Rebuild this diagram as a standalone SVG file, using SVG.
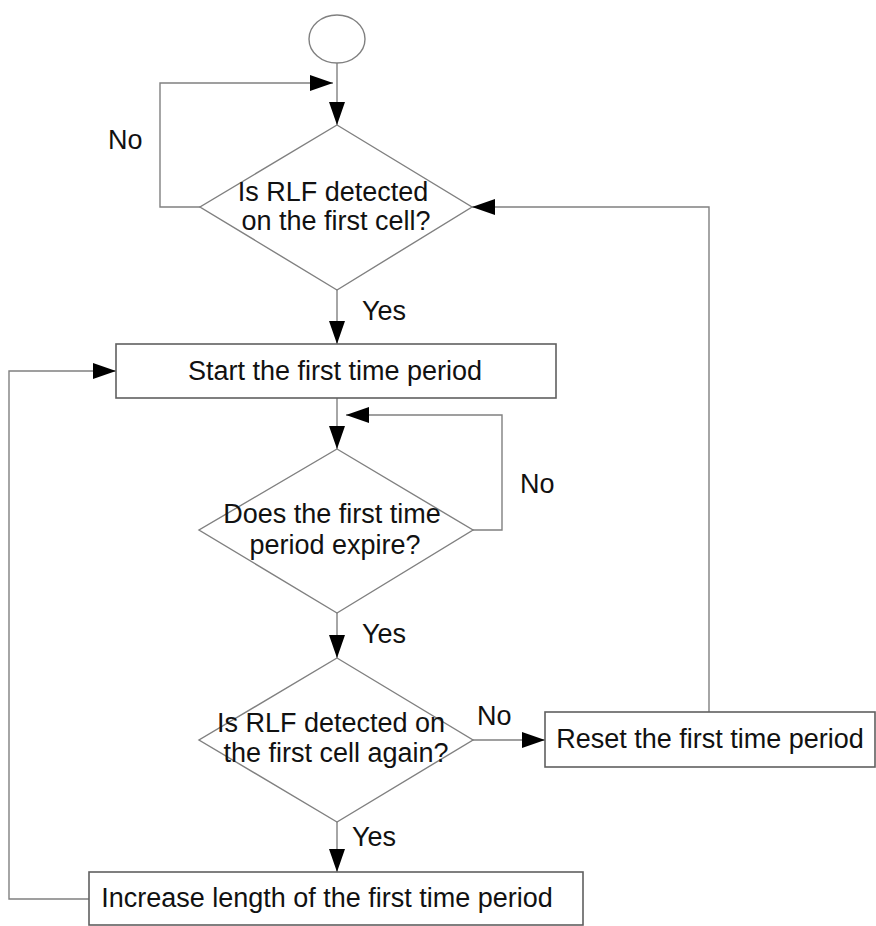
<svg xmlns="http://www.w3.org/2000/svg" width="876" height="926" viewBox="0 0 876 926">
  <defs>
    <marker id="arr" markerUnits="userSpaceOnUse" markerWidth="23" markerHeight="16" refX="23" refY="8" orient="auto">
      <path d="M0,0 L23,8 L0,16 z" fill="#000"/>
    </marker>
    <style>
      .shape { fill: #fff; stroke: #808080; stroke-width: 1.4; }
      .box { fill: #fff; stroke: #606060; stroke-width: 1.6; }
      .conn { fill: none; stroke: #808080; stroke-width: 1.4; }
      .t { font-family: "Liberation Sans", Arial, sans-serif; font-size: 27px; fill: #111; }
      .m { text-anchor: middle; }
    </style>
  </defs>
  <rect width="876" height="926" fill="#fff"/>

  <g id="connectors">
    <line class="conn" x1="337" y1="63" x2="337" y2="125" marker-end="url(#arr)"/>
    <polyline class="conn" points="200,207 160,207 160,83 333,83" marker-end="url(#arr)"/>
    <line class="conn" x1="337" y1="290" x2="337" y2="344" marker-end="url(#arr)"/>
    <line class="conn" x1="337" y1="398" x2="337" y2="449" marker-end="url(#arr)"/>
    <polyline class="conn" points="473,530 502,530 502,415 346,415" marker-end="url(#arr)"/>
    <line class="conn" x1="337" y1="613" x2="337" y2="658" marker-end="url(#arr)"/>
    <line class="conn" x1="473" y1="740" x2="545" y2="740" marker-end="url(#arr)"/>
    <polyline class="conn" points="709,712 709,207 472,207" marker-end="url(#arr)"/>
    <line class="conn" x1="337" y1="822" x2="337" y2="872" marker-end="url(#arr)"/>
    <polyline class="conn" points="89,899 9,899 9,371 116,371" marker-end="url(#arr)"/>
    <text class="t" x="108" y="149">No</text>
    <text class="t" x="362" y="320">Yes</text>
    <text class="t" x="520" y="493">No</text>
    <text class="t" x="362" y="643">Yes</text>
    <text class="t" x="477" y="725">No</text>
    <text class="t" x="352" y="846">Yes</text>
  </g>

  <g id="start">
    <ellipse class="shape" cx="337" cy="39" rx="28" ry="24"/>
  </g>

  <g id="decision1">
    <polygon class="shape" points="337,125 472,207 337,290 200,207"/>
    <text class="t m" x="333" y="201">Is RLF detected</text>
    <text class="t m" x="336" y="230">on the first cell?</text>
  </g>

  <g id="start-period">
    <rect class="box" x="116" y="344" width="440" height="54"/>
    <text class="t m" x="335" y="380">Start the first time period</text>
  </g>

  <g id="decision2">
    <polygon class="shape" points="337,449 473,530 337,613 199,530"/>
    <text class="t m" x="332" y="523">Does the first time</text>
    <text class="t m" x="335" y="554">period expire?</text>
  </g>

  <g id="decision3">
    <polygon class="shape" points="337,658 473,740 337,822 199,740"/>
    <text class="t m" x="331" y="732">Is RLF detected on</text>
    <text class="t m" x="336" y="762">the first cell again?</text>
  </g>

  <g id="reset">
    <rect class="box" x="545" y="712" width="330" height="55"/>
    <text class="t m" x="710" y="748">Reset the first time period</text>
  </g>

  <g id="increase">
    <rect class="box" x="89" y="872" width="494" height="53"/>
    <text class="t m" x="327" y="907">Increase length of the first time period</text>
  </g>
</svg>
